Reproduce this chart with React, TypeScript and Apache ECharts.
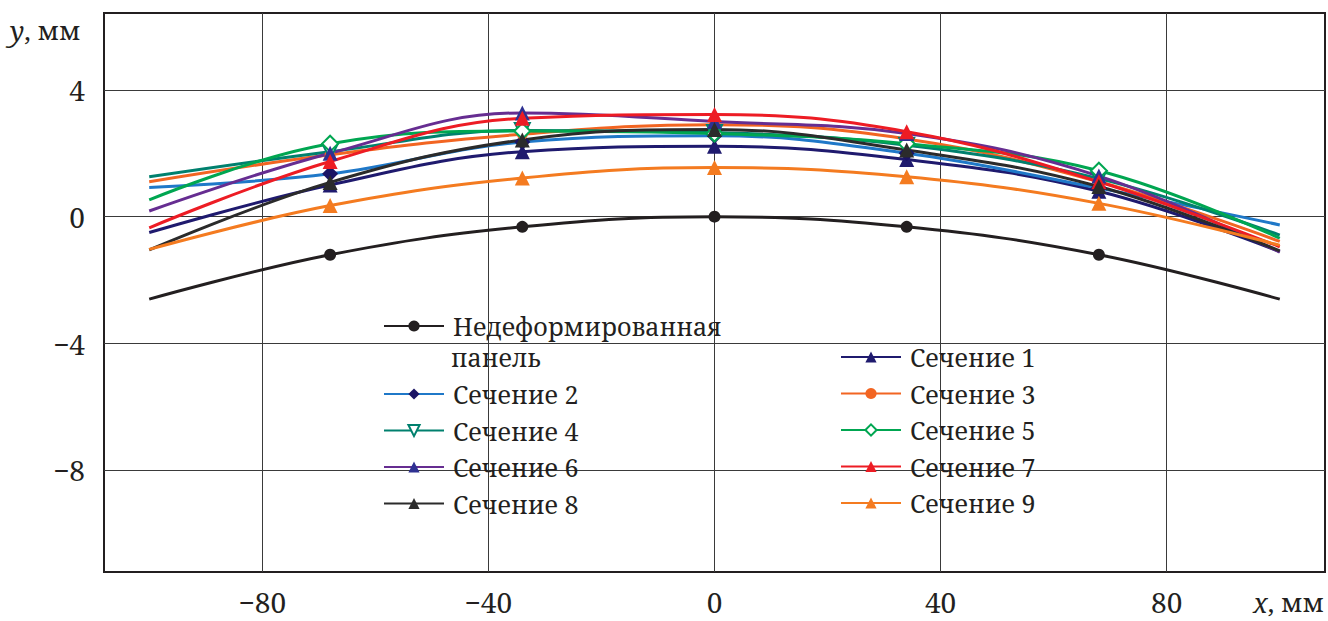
import React, { useEffect, useRef } from "react";
import * as echarts from "echarts";

const xValues = [-100, -68, -34, 0, 34, 68, 100];
const undeformed = [-2.6, -1.2, -0.32, 0, -0.32, -1.2, -2.6];
const s1 = [-0.5, 1.0, 2.05, 2.22, 1.8, 0.8, -1.1];
const s2 = [0.92, 1.35, 2.35, 2.55, 2.0, 0.9, -0.26];
const s3 = [1.1, 1.95, 2.6, 2.9, 2.45, 1.1, -0.78];
const s4 = [1.26, 2.05, 2.72, 2.65, 2.25, 1.2, -0.58];
const s5 = [0.53, 2.3, 2.7, 2.62, 2.3, 1.45, -0.68];
const s6 = [0.18, 2.0, 3.27, 3.0, 2.62, 1.28, -1.12];
const s7 = [-0.35, 1.74, 3.1, 3.22, 2.68, 1.1, -0.95];
const s8 = [-1.05, 1.08, 2.42, 2.75, 2.1, 0.95, -1.08];
const s9 = [-1.03, 0.35, 1.22, 1.55, 1.26, 0.42, -0.9];

const xTicks = [-80, -40, 0, 40, 80];
const yTicks = [-8, -4, 0, 4];

const names = [
  "Недеформированная",
  "Сечение 1",
  "Сечение 2",
  "Сечение 3",
  "Сечение 4",
  "Сечение 5",
  "Сечение 6",
  "Сечение 7",
  "Сечение 8",
  "Сечение 9",
];

const FONT = "Noto Serif";
const fmt = (v: number) => (v < 0 ? "\u2212" + Math.abs(v) : String(v));

export default function App() {
  const ref = useRef<HTMLDivElement>(null);
  useEffect(() => {
    if (!ref.current) return;
    const chart = echarts.init(ref.current, undefined, { renderer: "svg" });

    const mk = (
      name: string,
      ys: number[],
      lineColor: string,
      symbol: string,
      symbolSize: number,
      fill: string,
      border?: string,
      rotate?: number
    ) => ({
      name,
      type: "line",
      smooth: 0.4,
      data: ys.map((y, i) =>
        i === 0 || i === ys.length - 1
          ? { value: [xValues[i], y], symbol: "none" }
          : { value: [xValues[i], y] }
      ),
      symbol,
      symbolSize,
      symbolRotate: rotate || 0,
      showSymbol: true,
      lineStyle: { color: lineColor, width: 3 },
      itemStyle: {
        color: fill,
        borderColor: border || fill,
        borderWidth: border ? 2 : 0,
      },
      z: 3,
    });

    const series = [
      mk(names[0], undeformed, "#231f20", "circle", 12, "#231f20"),
      mk(names[1], s1, "#1f1a6e", "triangle", 15, "#1f1a6e"),
      mk(names[2], s2, "#1f78c8", "diamond", 16, "#1b1464"),
      mk(names[3], s3, "#f26522", "circle", 11, "#f26522"),
      mk(names[4], s4, "#00806e", "triangle", 15, "#ffffff", "#00806e", 180),
      mk(names[5], s5, "#00a651", "diamond", 16, "#ffffff", "#00a651"),
      mk(names[6], s6, "#662d91", "triangle", 15, "#2e3192"),
      mk(names[7], s7, "#ed1c24", "triangle", 15, "#ed1c24"),
      mk(names[8], s8, "#2b2b2b", "triangle", 15, "#2b2b2b"),
      mk(names[9], s9, "#f47b20", "triangle", 15, "#f47b20"),
    ];

    const legendText = {
      fontFamily: FONT,
      fontSize: 25,
      color: "#231f20",
      lineHeight: 30,
      padding: [0, 0, 0, 4],
    };

    chart.setOption({
      animation: false,
      backgroundColor: "#ffffff",
      textStyle: { fontFamily: FONT },
      grid: {
        left: 104,
        top: 13,
        right: 3,
        bottom: 49,
        show: true,
        borderColor: "#231f20",
        borderWidth: 2,
        containLabel: false,
      },
      xAxis: {
        type: "value",
        min: -108,
        max: 108,
        axisLine: { show: false },
        axisTick: { show: false, customValues: xTicks },
        axisLabel: {
          customValues: xTicks,
          formatter: fmt,
          fontFamily: FONT,
          fontSize: 28,
          lineHeight: 28,
          color: "#231f20",
          margin: 16,
        },
        splitLine: { show: true, lineStyle: { color: "#3a3a3a", width: 1 } },
      },
      yAxis: {
        type: "value",
        min: -11.2,
        max: 6.42,
        axisLine: { show: false },
        axisTick: { show: false, customValues: yTicks },
        axisLabel: {
          customValues: yTicks,
          formatter: fmt,
          fontFamily: FONT,
          fontSize: 28,
          lineHeight: 30,
          color: "#231f20",
          margin: 19,
        },
        splitLine: { show: true, lineStyle: { color: "#3a3a3a", width: 1 } },
      },
      legend: [
        {
          data: [names[0]],
          left: 383,
          top: 311,
          padding: 0,
          orient: "vertical",
          itemWidth: 60,
          itemHeight: 14,
          textStyle: legendText,
          selectedMode: false,
        },
        {
          data: [names[2], names[4], names[6], names[8]],
          left: 383,
          top: 379,
          padding: 0,
          orient: "vertical",
          itemGap: 6.5,
          itemWidth: 60,
          itemHeight: 14,
          textStyle: legendText,
          selectedMode: false,
        },
        {
          data: [names[1], names[3], names[5], names[7], names[9]],
          left: 840,
          top: 342,
          padding: 0,
          orient: "vertical",
          itemGap: 6.5,
          itemWidth: 60,
          itemHeight: 14,
          textStyle: legendText,
          selectedMode: false,
        },
      ],
      graphic: [
        {
          type: "text",
          left: 451,
          top: 343,
          style: {
            text: "панель",
            fontFamily: FONT,
            fontSize: 25,
            lineHeight: 28,
            fill: "#231f20",
          },
        },
        {
          type: "text",
          left: 10,
          top: 15,
          style: {
            text: "{i|y}, мм",
            rich: {
              i: { fontFamily: FONT, fontSize: 27, fontStyle: "italic", fill: "#231f20" },
            },
            fontFamily: FONT,
            fontSize: 26,
            lineHeight: 30,
            fill: "#231f20",
          },
        },
        {
          type: "text",
          right: 4,
          top: 587,
          style: {
            text: "{i|x}, мм",
            rich: {
              i: { fontFamily: FONT, fontSize: 27, fontStyle: "italic", fill: "#231f20" },
            },
            fontFamily: FONT,
            fontSize: 26,
            lineHeight: 30,
            fill: "#231f20",
          },
        },
      ],
      series,
    });
    return () => chart.dispose();
  }, []);
  return (
    <div
      ref={ref}
      style={{ position: "fixed", left: 0, top: 0, width: 1328, height: 621 }}
    />
  );
}
